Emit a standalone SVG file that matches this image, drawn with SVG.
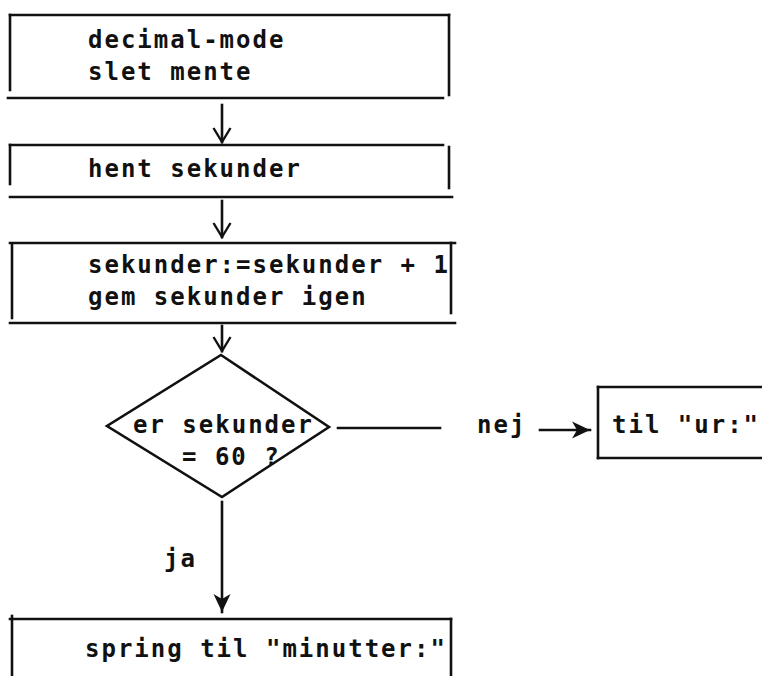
<svg xmlns="http://www.w3.org/2000/svg" width="762" height="676" viewBox="0 0 762 676">
  <style>
    .ln { stroke: #111; stroke-width: 2.6; fill: none; stroke-linecap: square; }
    .shape { stroke: #111; stroke-width: 2.6; fill: none; stroke-linejoin: miter; }
    .t { font-family: "DejaVu Sans Mono", "Liberation Mono", monospace; font-size: 24px; font-weight: bold; letter-spacing: 2px; fill: #111; }
  </style>
  <defs>
    <marker id="openHead" markerUnits="userSpaceOnUse" viewBox="-14 -10 16 20" markerWidth="16" markerHeight="20" refX="0" refY="0" orient="auto" overflow="visible">
      <path d="M-14,-8.5 L0,0 L-14,8.5" fill="none" stroke="#111" stroke-width="2.4"/>
    </marker>
    <marker id="solidHead" markerUnits="userSpaceOnUse" viewBox="-18 -9 20 18" markerWidth="20" markerHeight="18" refX="0" refY="0" orient="auto" overflow="visible">
      <path d="M-18,-8.5 L0,0 L-18,8.5 L-13,0 Z" fill="#111"/>
    </marker>
  </defs>
  <rect width="762" height="676" fill="#fff"/>

  <!-- process box: decimal mode / clear carry -->
  <g id="decimalMode">
    <line class="ln" x1="10" y1="15" x2="449" y2="15"/>
    <line class="ln" x1="10" y1="15" x2="10" y2="90"/>
    <line class="ln" x1="449" y1="15" x2="449" y2="95"/>
    <line class="ln" x1="8" y1="98" x2="443" y2="98"/>
    <text class="t" x="88" y="48">decimal-mode</text>
    <text class="t" x="88" y="80">slet mente</text>
  </g>

  <!-- process box: fetch seconds -->
  <g id="hentSekunder">
    <line class="ln" x1="10" y1="145" x2="443" y2="145"/>
    <line class="ln" x1="10" y1="145" x2="10" y2="184"/>
    <line class="ln" x1="449" y1="147" x2="449" y2="188"/>
    <line class="ln" x1="10" y1="197" x2="452" y2="197"/>
    <text class="t" x="88" y="177">hent sekunder</text>
  </g>

  <!-- process box: increment and store seconds -->
  <g id="incSekunder">
    <line class="ln" x1="10" y1="243" x2="455" y2="243"/>
    <line class="ln" x1="12" y1="245" x2="12" y2="318"/>
    <line class="ln" x1="451" y1="243" x2="451" y2="313"/>
    <line class="ln" x1="10" y1="323" x2="455" y2="323"/>
    <text class="t" x="88" y="273">sekunder:=sekunder + 1</text>
    <text class="t" x="88" y="305">gem sekunder igen</text>
  </g>

  <!-- decision: seconds = 60 ? -->
  <g id="test60">
    <polygon class="shape" points="221,355 329,427 222,497 107,426"/>
    <text class="t" x="133" y="433">er sekunder</text>
    <text class="t" x="182" y="465">= 60 ?</text>
  </g>

  <!-- exit box: to "ur:" -->
  <g id="tilUr">
    <line class="ln" x1="598" y1="387" x2="764" y2="387"/>
    <line class="ln" x1="598" y1="387" x2="598" y2="458"/>
    <line class="ln" x1="598" y1="458" x2="764" y2="458"/>
    <text class="t" x="612" y="433">til "ur:"</text>
  </g>

  <!-- exit box: jump to "minutter:" -->
  <g id="springMinutter">
    <line class="ln" x1="10" y1="619" x2="451" y2="619"/>
    <line class="ln" x1="12" y1="616" x2="12" y2="678"/>
    <line class="ln" x1="451" y1="619" x2="451" y2="678"/>
    <text class="t" x="85" y="657">spring til "minutter:"</text>
  </g>

  <!-- connectors -->
  <g id="connectors">
    <line class="ln" x1="222" y1="105" x2="222" y2="142" marker-end="url(#openHead)"/>
    <line class="ln" x1="222" y1="201" x2="222" y2="237" marker-end="url(#openHead)"/>
    <line class="ln" x1="222" y1="326" x2="222" y2="351" marker-end="url(#openHead)"/>
    <line class="ln" x1="338" y1="428" x2="440" y2="428"/>
    <text class="t" x="477" y="433">nej</text>
    <line class="ln" x1="540" y1="430" x2="590" y2="430" marker-end="url(#solidHead)"/>
    <line class="ln" x1="222" y1="502" x2="222" y2="612" marker-end="url(#solidHead)"/>
    <text class="t" x="164" y="567">ja</text>
  </g>
</svg>
